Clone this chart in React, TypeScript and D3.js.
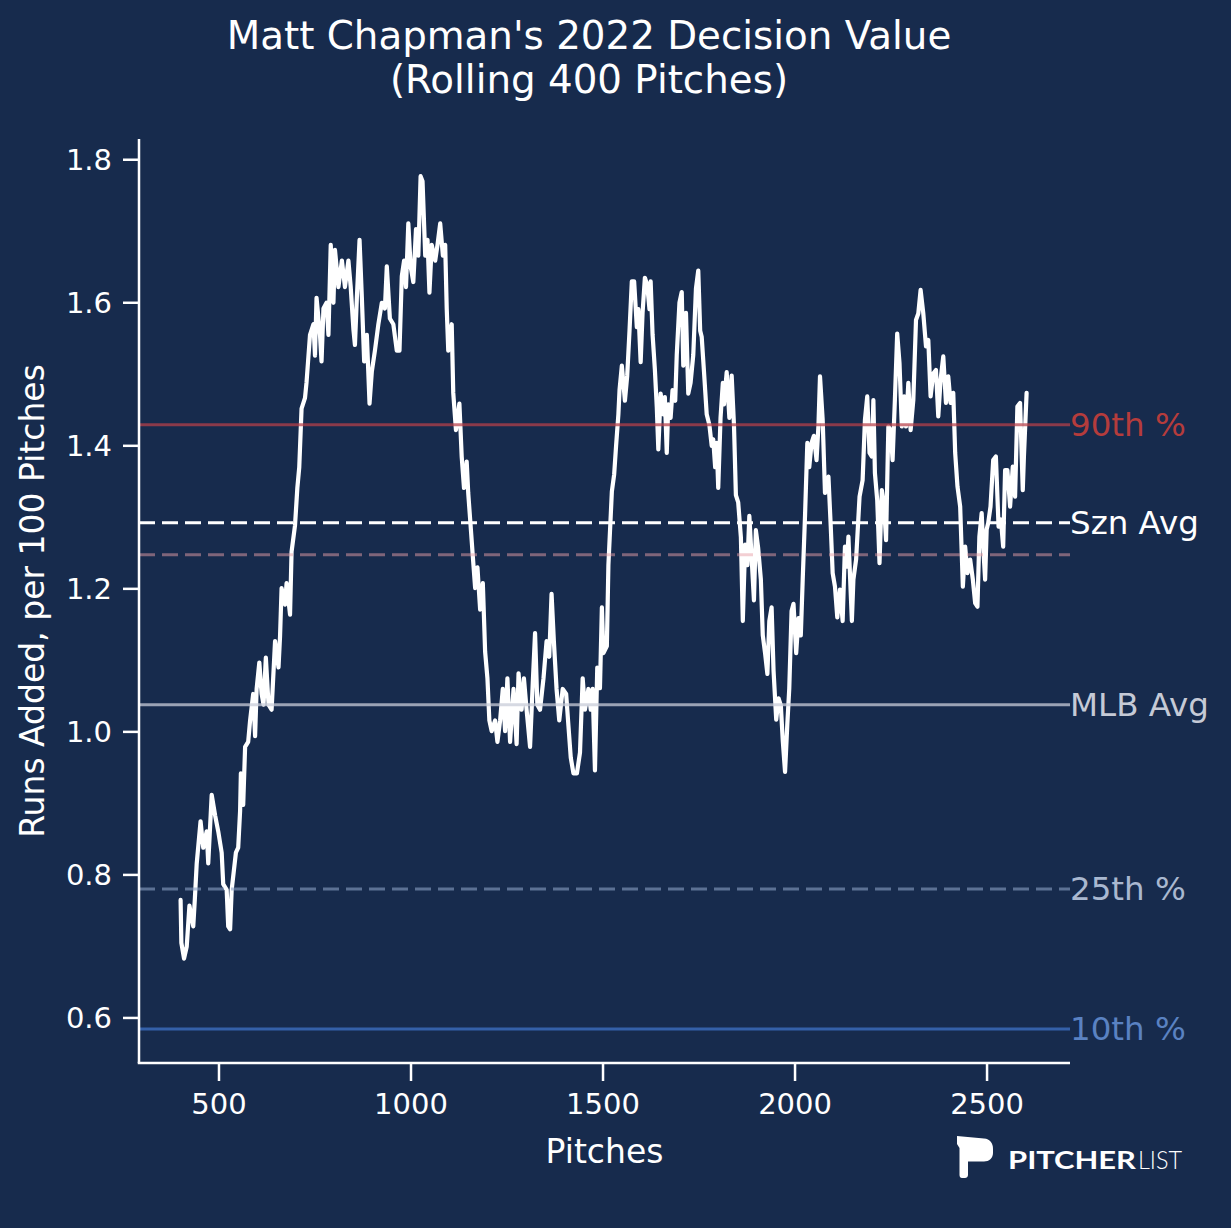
import React from "react";
import * as d3 from "d3";

// ---- Data ----
const pitches: number[] = [
  400, 402, 409, 416, 423, 433, 437, 442, 452, 459, 468, 472, 481, 490, 498, 507, 511, 520, 524, 529, 533, 544, 550, 555, 557, 563, 568, 576, 581, 589, 594, 598, 605, 611, 616, 622, 629, 637, 646, 655, 659, 663, 672, 676, 685, 689, 698, 704, 709, 715, 724, 728, 737, 746, 750, 754, 763, 767, 772, 780, 785, 791, 798, 802, 811, 820, 828, 837, 843, 850, 854, 859, 866, 872, 878, 885, 892, 898, 906, 915, 924, 932, 937, 945, 954, 963, 970,
  976, 982, 987, 993, 999, 1006, 1013, 1019, 1025, 1030, 1037, 1043, 1048, 1054, 1063, 1069, 1076, 1083, 1089, 1093, 1097, 1106, 1110, 1117, 1126, 1132, 1138, 1145, 1149, 1154, 1161, 1167, 1173, 1180, 1187, 1193, 1199, 1204, 1210, 1219, 1225, 1232, 1239, 1245, 1251, 1258, 1267, 1275, 1280, 1288, 1294, 1301, 1310, 1317, 1323, 1329, 1336, 1345, 1353, 1360, 1366, 1372, 1379, 1386, 1395, 1404, 1410, 1416, 1423, 1432, 1440, 1447, 1453, 1462, 1468, 1473, 1479, 1485,
  1492, 1497, 1501, 1510, 1514, 1523, 1529, 1534, 1540, 1543, 1549, 1553, 1557, 1563, 1569, 1575, 1581, 1588, 1592, 1598, 1603, 1609, 1615, 1621, 1624, 1629, 1635, 1640, 1644, 1650, 1657, 1661, 1666, 1670, 1676, 1681, 1688, 1692, 1699, 1705, 1709, 1716, 1722, 1728, 1735, 1742, 1748, 1753, 1757, 1763, 1770, 1777, 1783, 1787, 1792, 1796, 1800, 1806, 1812, 1815, 1822, 1829, 1835, 1841, 1846, 1852, 1859, 1864, 1870, 1876, 1881, 1887, 1893, 1898, 1904, 1911, 1916, 1922, 1928, 1933, 1939, 1944, 1951, 1957, 1963, 1968, 1974, 1980, 1985, 1991, 1996, 2003, 2009, 2015, 2020, 2026, 2032, 2037, 2043, 2049, 2056, 2061,
  2065, 2072, 2078, 2087, 2093, 2098, 2104, 2110, 2117, 2124, 2130, 2135, 2139, 2148, 2152, 2159, 2168, 2176, 2182, 2188, 2194, 2200, 2204, 2208, 2214, 2220, 2226, 2232, 2237, 2243, 2249, 2254, 2260, 2266, 2272, 2278, 2284, 2289, 2295, 2301, 2308, 2315, 2321, 2327, 2334, 2341, 2347, 2353, 2360, 2367, 2373, 2379, 2386, 2393, 2399, 2405, 2412, 2417, 2423, 2430, 2437, 2443, 2449, 2456, 2463, 2469, 2475, 2480, 2486, 2490, 2495, 2499, 2503, 2509, 2516, 2523, 2530, 2536, 2542, 2547, 2553, 2560, 2567, 2573, 2579, 2586, 2593, 2596, 2603,
];

const decisionValue: number[] = [
  0.765, 0.705, 0.683, 0.700, 0.757, 0.728, 0.765, 0.816, 0.875, 0.838, 0.861, 0.816, 0.912, 0.883, 0.861, 0.831, 0.787, 0.779, 0.728, 0.724, 0.779, 0.831, 0.838, 0.890, 0.942, 0.898, 0.979, 0.986, 1.016, 1.053, 0.994, 1.060, 1.097, 1.053, 1.038, 1.104, 1.038, 1.031, 1.127, 1.090, 1.134, 1.201, 1.178, 1.208, 1.164, 1.252, 1.289, 1.341, 1.370, 1.452, 1.467, 1.489, 1.555, 1.570, 1.526, 1.607, 1.555, 1.518, 1.592, 1.600, 1.555, 1.681, 1.600, 1.674, 1.622, 1.659, 1.622, 1.659, 1.622, 1.563, 1.541, 1.607, 1.688, 1.607, 1.518, 1.555, 1.459, 1.504, 1.533, 1.570, 1.600, 1.592, 1.651, 1.578, 1.570, 1.533, 1.533,
  1.637, 1.659, 1.622, 1.711, 1.651, 1.629, 1.703, 1.666, 1.777, 1.770, 1.666, 1.688, 1.614, 1.681, 1.659, 1.681, 1.711, 1.666, 1.681, 1.592, 1.533, 1.570, 1.474, 1.422, 1.459, 1.385, 1.341, 1.378, 1.334, 1.297, 1.245, 1.201, 1.230, 1.171, 1.208, 1.112, 1.075, 1.016, 1.001, 1.016, 0.986, 1.016, 1.060, 1.001, 1.075, 0.986, 1.060, 0.983, 1.082, 1.031, 1.075, 1.031, 0.979, 1.068, 1.138, 1.038, 1.031, 1.075, 1.127, 1.105, 1.193, 1.127, 1.060, 1.016, 1.060, 1.053, 1.008, 0.964, 0.942, 0.942, 0.971, 1.075, 1.031, 1.060, 1.031, 1.060, 0.946, 1.090,
  1.061, 1.174, 1.110, 1.120, 1.233, 1.336, 1.360, 1.400, 1.444, 1.478, 1.512, 1.488, 1.463, 1.498, 1.561, 1.630, 1.630, 1.566, 1.591, 1.517, 1.586, 1.635, 1.625, 1.591, 1.630, 1.556, 1.507, 1.454, 1.395, 1.473, 1.444, 1.468, 1.390, 1.458, 1.439, 1.478, 1.463, 1.527, 1.600, 1.615, 1.512, 1.586, 1.473, 1.488, 1.527, 1.620, 1.645, 1.561, 1.552, 1.503, 1.444, 1.429, 1.400, 1.409, 1.370, 1.404, 1.341, 1.439, 1.488, 1.458, 1.503, 1.439, 1.498, 1.429, 1.331, 1.321, 1.272, 1.155, 1.262, 1.233, 1.302, 1.243, 1.184, 1.282, 1.257, 1.213, 1.135, 1.110, 1.081, 1.155, 1.174, 1.086, 1.017, 1.047, 1.037, 0.988, 0.944, 1.012, 1.061, 1.169, 1.179, 1.110, 1.159, 1.135, 1.213, 1.302, 1.404, 1.370, 1.404, 1.414, 1.380, 1.429,
  1.497, 1.436, 1.334, 1.357, 1.287, 1.222, 1.203, 1.160, 1.199, 1.155, 1.259, 1.231, 1.273, 1.155, 1.213, 1.241, 1.329, 1.352, 1.436, 1.469, 1.390, 1.385, 1.464, 1.362, 1.324, 1.236, 1.338, 1.315, 1.268, 1.427, 1.422, 1.380, 1.464, 1.557, 1.516, 1.427, 1.469, 1.427, 1.488, 1.422, 1.464, 1.576, 1.585, 1.618, 1.585, 1.539, 1.548, 1.469, 1.501, 1.506, 1.441, 1.492, 1.525, 1.460, 1.497, 1.460, 1.474, 1.390, 1.343, 1.315, 1.203, 1.259, 1.222, 1.241, 1.213, 1.180, 1.175, 1.273, 1.306, 1.259, 1.213, 1.283, 1.292, 1.315, 1.380, 1.385, 1.287, 1.297, 1.259, 1.366, 1.366, 1.315, 1.371, 1.329, 1.455, 1.460, 1.338, 1.385, 1.474,
];

const refLabels: string[] = ["90th %", "Szn Avg", "", "MLB Avg", "25th %", "10th %"];
const refValues: number[] = [1.4294, 1.2923, 1.2476, 1.0378, 0.7804, 0.5846];

const xTicks: number[] = [500, 1000, 1500, 2000, 2500];
const yTicks: number[] = [0.6, 0.8, 1.0, 1.2, 1.4, 1.6, 1.8];

const titleLines: string[] = ["Matt Chapman's 2022 Decision Value", "(Rolling 400 Pitches)"];
const xLabel = "Pitches";
const yLabel = "Runs Added, per 100 Pitches";

// ---- Styles ----
const W = 1231;
const H = 1228;
const BG = "#172b4d";
const FONT = "'DejaVu Sans', Verdana, sans-serif";
const M = { left: 139, right: 1070, top: 139, bottom: 1063 };

const refStyles = [
  { stroke: "#b8404a", opacity: 0.72, dash: "", label: "#b53c3c" },
  { stroke: "#ffffff", opacity: 1, dash: "16 7", label: "#ffffff" },
  { stroke: "#e8a0a8", opacity: 0.5, dash: "16 7", label: "#e8a0a8" },
  { stroke: "#c8ccd8", opacity: 0.75, dash: "", label: "#c5cad6" },
  { stroke: "#8aa0c4", opacity: 0.6, dash: "16 7", label: "#a9b8d0" },
  { stroke: "#3a6ab8", opacity: 0.85, dash: "", label: "#5a82c2" },
];

export default function App() {
  const x = d3.scaleLinear().domain([291.7, 2716]).range([M.left, M.right]);
  const y = d3.scaleLinear().domain([0.537, 1.829]).range([M.bottom, M.top]);

  const pts: [number, number][] = pitches.map((p, i) => [p, decisionValue[i]]);
  const lineGen = d3
    .line<[number, number]>()
    .x((d) => x(d[0]))
    .y((d) => y(d[1]));
  const path = lineGen(pts) || "";

  const axisColor = "#ffffff";

  return (
    <svg
      width={W}
      height={H}
      style={{ position: "absolute", left: 0, top: 0, display: "block" }}
      fontFamily={FONT}
    >
      <rect x={0} y={0} width={W} height={H} fill={BG} />

      {/* Title */}
      {titleLines.map((t, i) => (
        <text key={i} x={589} y={49 + i * 44} textAnchor="middle" fill="#ffffff" fontSize={38.8}>
          {t}
        </text>
      ))}

      {/* Data line */}
      <path d={path} fill="none" stroke="#ffffff" strokeWidth={4.2} strokeLinejoin="round" strokeLinecap="round" />

      {/* Reference lines */}
      {refValues.map((v, i) => (
        <g key={i}>
          <line
            x1={M.left}
            x2={M.right}
            y1={y(v)}
            y2={y(v)}
            stroke={refStyles[i].stroke}
            strokeOpacity={refStyles[i].opacity}
            strokeWidth={3}
            strokeDasharray={refStyles[i].dash || undefined}
          />
          {refLabels[i] && (
            <text x={M.right} y={y(v) + 11} fill={refStyles[i].label} fontSize={32.5}>
              {refLabels[i]}
            </text>
          )}
        </g>
      ))}

      {/* Axes */}
      <line x1={M.left} x2={M.left} y1={M.top} y2={M.bottom} stroke={axisColor} strokeWidth={2.5} />
      <line x1={M.left - 1.25} x2={M.right} y1={M.bottom} y2={M.bottom} stroke={axisColor} strokeWidth={2.5} />

      {yTicks.map((t) => (
        <g key={t}>
          <line x1={M.left - 16} x2={M.left} y1={y(t)} y2={y(t)} stroke={axisColor} strokeWidth={2.5} />
          <text x={M.left - 27} y={y(t) + 10.5} textAnchor="end" fill="#ffffff" fontSize={29}>
            {t.toFixed(1)}
          </text>
        </g>
      ))}
      {xTicks.map((t) => (
        <g key={t}>
          <line x1={x(t)} x2={x(t)} y1={M.bottom} y2={M.bottom + 18} stroke={axisColor} strokeWidth={2.5} />
          <text x={x(t)} y={1114} textAnchor="middle" fill="#ffffff" fontSize={29}>
            {t}
          </text>
        </g>
      ))}

      <text x={(M.left + M.right) / 2} y={1163} textAnchor="middle" fill="#ffffff" fontSize={33}>
        {xLabel}
      </text>
      <text
        transform={`translate(44, ${(M.top + M.bottom) / 2}) rotate(-90)`}
        textAnchor="middle"
        fill="#ffffff"
        fontSize={33}
      >
        {yLabel}
      </text>

      {/* Logo */}
      <g>
        <path
          d="M957,1136 L984,1138.5 C990,1139 993,1143 993,1149 L993,1153 C993,1158 989,1161.5 984,1161.5 L968,1161.5 L968,1175 C968,1177 966.5,1178 965,1178 L962,1178 C960.5,1178 959.5,1177 959.5,1175 L959.5,1148 L957,1144 Z"
          fill="#ffffff"
        />
        <text x={1008} y={1168.5} fill="#ffffff" fontFamily="Lato, 'Open Sans', sans-serif" fontWeight={700} fontSize={24.5} textLength={128} lengthAdjust="spacingAndGlyphs">
          PITCHER
        </text>
        <text x={1138} y={1168.5} fill="#ffffff" fontFamily="Lato, 'Open Sans', sans-serif" fontWeight={300} fontSize={24.5} textLength={44} lengthAdjust="spacingAndGlyphs">
          LIST
        </text>
      </g>
    </svg>
  );
}
